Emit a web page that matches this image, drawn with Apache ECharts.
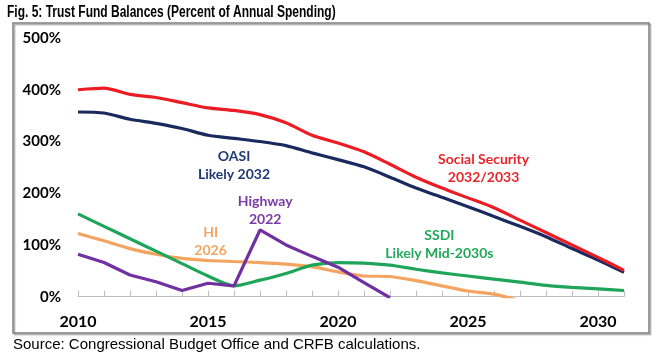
<!DOCTYPE html>
<html><head><meta charset="utf-8">
<script src="https://cdn.jsdelivr.net/npm/echarts@6/dist/echarts.min.js"></script>
<style>html,body{margin:0;padding:0;background:#fff}#c{width:661px;height:358px}</style>
</head><body><div id="c"></div>
<script>
const years = [2010,2011,2012,2013,2014,2015,2016,2017,2018,2019,2020,2021,2022,2023,2024,2025,2026,2027,2028,2029,2030,2031];
const socialSecurity = [400,403,391,385,375,365,360,352,336,312,297,280,256,231,210,191,172,148,124,100,76,51];
const oasi = [357,355,343,335,325,312,306,300,292,278,265,251,231,210,192,174,155,136,116,93,71,47];
const ssdi = [160,136,112,88,64,40,21,32,45,61,66,65,61,53,46,40,34,28,22,18,15,12];
const hi = [122,108,93,82,74,70,68,66,63,58,48,40,39,31,21,11,5,-8,null,null,null,null];
const highway = [82,66,42,29,12,26,21,129,100,78,57,27,-2,null,null,null,null,null,null,null,null,null];
const yTicks = [0,100,200,300,400,500];
const xLabelYears = [2010,2015,2020,2025,2030];

const titleText = 'Fig. 5: Trust Fund Balances (Percent of Annual Spending)';
const sourceText = 'Source: Congressional Budget Office and CRFB calculations.';
const annotations = [
  {lines:['OASI','Likely 2032'], at:[2016.0,254], color:'#1f3a76'},
  {lines:['Social Security','2032/2033'], at:[2025.6,247], color:'#e8252b'},
  {lines:['Highway','2022'], at:[2017.2,167], color:'#7a3aa8'},
  {lines:['HI','2026'], at:[2015.1,107], color:'#f3a564'},
  {lines:['SSDI','Likely Mid-2030s'], at:[2023.9,100], color:'#22a85a'}
];

const pair = arr => years.map((y,i)=>[y, arr[i]]);
const calibri = 'Lato, "Open Sans", sans-serif';

function lineSeries(name, arr, color, smooth, z){
  return {name, type:'line', data:pair(arr), showSymbol:false, symbol:'none', smooth,
    connectNulls:false, clip:true, z,
    lineStyle:{color, width:3.2}, itemStyle:{color}};
}

const chart = echarts.init(document.getElementById('c'), null, {renderer:'canvas'});
chart.setOption({
  animation:false,
  backgroundColor:'#fff',
  grid:{left:78, right:37, top:38, bottom:61.3, containLabel:false},
  xAxis:{type:'value', min:2010, max:2031, interval:1,
    axisLine:{show:true, lineStyle:{color:'#bfbfbf', width:1}},
    axisTick:{show:true, inside:true, length:6, lineStyle:{color:'#bfbfbf'}},
    splitLine:{show:false},
    axisLabel:{margin:17, fontFamily:calibri, fontWeight:'bold', fontSize:16, color:'#000',
      formatter:v=> xLabelYears.includes(v) ? String(v) : ''}},
  yAxis:{type:'value', min:yTicks[0], max:yTicks[yTicks.length-1], interval:100,
    axisLine:{show:false}, axisTick:{show:false}, splitLine:{show:false},
    axisLabel:{margin:17, fontFamily:calibri, fontWeight:'bold', fontSize:15, color:'#000',
      formatter:'{value}%'}},
  series:[
    lineSeries('HI', hi, '#f4a460', 0.25, 2),
    lineSeries('SSDI', ssdi, '#1fa55a', 0.25, 3),
    lineSeries('OASI', oasi, '#1b2a5e', 0.25, 4),
    lineSeries('Social Security', socialSecurity, '#ec1c24', 0.25, 5),
    lineSeries('Highway', highway, '#7030a0', false, 6)
  ]
});

const g = [
  {type:'rect', shape:{x:13, y:23, width:636, height:310},
   style:{fill:'none', stroke:'#7f7f7f', lineWidth:1.5, shadowColor:'rgba(0,0,0,0.35)', shadowOffsetX:1.5, shadowOffsetY:1.5, shadowBlur:1}, z:-1, silent:true},
  {type:'text', x:7, y:5, scaleX:0.75, originX:0, originY:0,
   style:{text:titleText, font:'bold 16px "Liberation Sans", Arial, sans-serif', fill:'#000'}},
  {type:'text', x:13, y:337, style:{text:sourceText, font:'15px "Liberation Sans", Arial, sans-serif', fill:'#000'}}
];
annotations.forEach(a=>{
  const p = chart.convertToPixel({gridIndex:0}, a.at);
  g.push({type:'text', x:p[0], y:p[1], z:10,
    style:{text:a.lines.join('\n'), fill:a.color, font:'bold 14px ' + calibri,
      align:'center', verticalAlign:'middle', lineHeight:18}});
});
chart.setOption({graphic:g});
</script>
</body></html>
